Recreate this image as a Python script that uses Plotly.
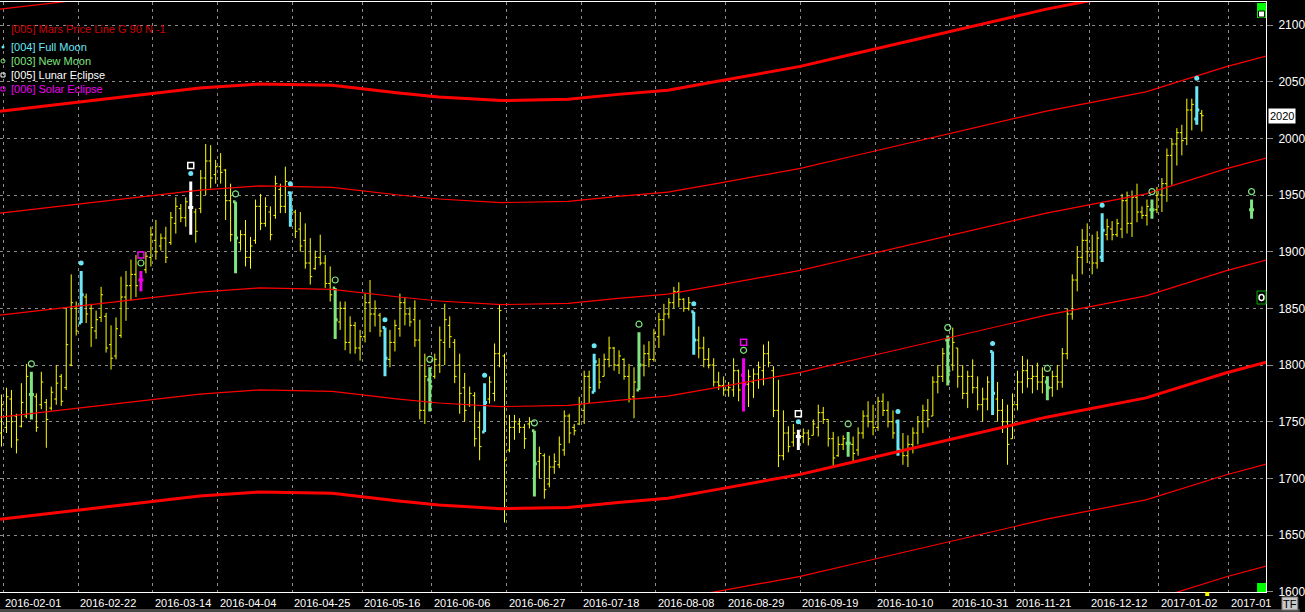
import plotly.graph_objects as go

# ---------------- data ----------------
bar_open = [
    1740, 1745, 1770, 1755, 1746, 1755, 1774, 1772, 1765, 1767,
    1762, 1770, 1790, 1780, 1800, 1850, 1837, 1860, 1850, 1830,
    1842, 1843, 1818, 1808, 1826, 1860, 1870, 1880, 1875, 1884,
    1895, 1910, 1905, 1912, 1908, 1925, 1938, 1930, 1939, 1935,
    1938, 1965, 1980, 1968, 1975, 1972, 1945, 1944, 1908, 1915,
    1895, 1910, 1940, 1925, 1935, 1932, 1955, 1940, 1952, 1935,
    1920, 1910, 1890, 1885, 1895, 1890, 1872, 1868, 1838, 1850,
    1820, 1835, 1815, 1825, 1855, 1845, 1844, 1833, 1805, 1820,
    1832, 1855, 1845, 1840, 1822, 1760, 1787, 1790, 1800, 1820,
    1835, 1820, 1800, 1780, 1765, 1773, 1745, 1741, 1770, 1775,
    1810, 1808, 1725, 1745, 1748, 1745, 1748, 1742, 1715, 1720,
    1695, 1710, 1712, 1725, 1755, 1745, 1748, 1760, 1790, 1776,
    1800, 1790, 1805, 1815, 1800, 1805, 1790, 1772, 1778, 1800,
    1810, 1805, 1825, 1840, 1845, 1855, 1865, 1858, 1850, 1847,
    1822, 1815, 1805, 1800, 1785, 1782, 1778, 1778, 1795, 1791,
    1783, 1785, 1792, 1795, 1810, 1795, 1760, 1720, 1740, 1732,
    1737, 1737, 1740, 1738, 1745, 1758, 1752, 1735, 1720, 1730,
    1731, 1730, 1725, 1740, 1755, 1750, 1745, 1768, 1760, 1750,
    1750, 1725, 1720, 1730, 1740, 1750, 1760, 1755, 1785, 1790,
    1822, 1800, 1815, 1790, 1775, 1790, 1780, 1765, 1770, 1812,
    1770, 1760, 1750, 1735, 1765, 1785, 1795, 1788, 1790, 1785,
    1785, 1780, 1790, 1785, 1810, 1845, 1875, 1895, 1910, 1900,
    1890, 1895, 1915, 1920, 1915, 1920, 1945, 1925, 1948, 1935,
    1932, 1937, 1937, 1950, 1960, 1985, 1995, 2005, 2000, 2025,
    2017, 2022,
]
bar_high = [
    1774, 1780, 1778, 1757, 1784, 1801, 1794, 1775, 1794, 1770,
    1781, 1800, 1792, 1851, 1880, 1856, 1883, 1863, 1854, 1848,
    1869, 1846, 1835, 1842, 1878, 1883, 1893, 1897, 1883, 1900,
    1922, 1928, 1916, 1922, 1935, 1948, 1942, 1948, 1962, 1938,
    1972, 1995, 1994, 1981, 1987, 1973, 1960, 1944, 1919, 1928,
    1913, 1946, 1951, 1948, 1940, 1967, 1960, 1975, 1953, 1937,
    1935, 1925, 1912, 1901, 1915, 1897, 1887, 1868, 1856, 1856,
    1843, 1838, 1831, 1863, 1875, 1857, 1846, 1833, 1831, 1840,
    1863, 1860, 1851, 1857, 1840, 1810, 1798, 1810, 1834, 1854,
    1843, 1823, 1810, 1793, 1781, 1776, 1759, 1784, 1790, 1819,
    1853, 1810, 1756, 1756, 1753, 1748, 1754, 1742, 1728, 1722,
    1720, 1722, 1737, 1760, 1757, 1748, 1772, 1795, 1795, 1810,
    1806, 1810, 1825, 1816, 1813, 1806, 1801, 1798, 1829, 1818,
    1821, 1832, 1846, 1854, 1859, 1869, 1873, 1859, 1860, 1847,
    1834, 1825, 1815, 1806, 1794, 1790, 1785, 1806, 1796, 1806,
    1796, 1797, 1803, 1818, 1821, 1799, 1787, 1760, 1746, 1748,
    1743, 1744, 1743, 1752, 1765, 1763, 1752, 1741, 1737, 1738,
    1741, 1737, 1745, 1760, 1768, 1765, 1772, 1775, 1768, 1760,
    1752, 1740, 1738, 1745, 1755, 1765, 1770, 1790, 1800, 1815,
    1826, 1833, 1815, 1800, 1795, 1805, 1790, 1780, 1790, 1812,
    1785, 1770, 1765, 1775, 1795, 1808, 1805, 1800, 1802, 1798,
    1790, 1795, 1800, 1815, 1850, 1880, 1905, 1920, 1925, 1915,
    1918, 1934, 1929, 1927, 1929, 1951, 1953, 1954, 1960, 1940,
    1946, 1946, 1957, 1965, 1991, 2000, 2009, 2012, 2035, 2035,
    2046, 2025,
]
bar_low = [
    1728, 1740, 1727, 1722, 1745, 1753, 1752, 1741, 1761, 1727,
    1760, 1765, 1764, 1778, 1799, 1826, 1837, 1837, 1816, 1823,
    1838, 1811, 1796, 1805, 1824, 1839, 1857, 1860, 1865, 1881,
    1887, 1893, 1901, 1890, 1906, 1916, 1926, 1922, 1915, 1908,
    1934, 1950, 1956, 1960, 1960, 1928, 1909, 1881, 1901, 1887,
    1885, 1907, 1919, 1922, 1910, 1929, 1934, 1934, 1922, 1912,
    1900, 1885, 1871, 1884, 1888, 1868, 1856, 1823, 1831, 1813,
    1810, 1810, 1804, 1820, 1829, 1834, 1825, 1790, 1798, 1812,
    1825, 1835, 1834, 1816, 1752, 1748, 1759, 1788, 1793, 1800,
    1815, 1784, 1757, 1750, 1763, 1728, 1716, 1741, 1766, 1768,
    1798, 1661, 1723, 1734, 1740, 1726, 1744, 1684, 1700, 1682,
    1692, 1704, 1709, 1720, 1731, 1738, 1747, 1748, 1766, 1776,
    1779, 1790, 1798, 1795, 1792, 1787, 1767, 1753, 1778, 1790,
    1798, 1803, 1815, 1826, 1841, 1850, 1851, 1847, 1848, 1809,
    1806, 1798, 1797, 1781, 1778, 1773, 1772, 1772, 1768, 1759,
    1763, 1771, 1779, 1782, 1798, 1754, 1710, 1716, 1723, 1728,
    1725, 1731, 1729, 1738, 1737, 1748, 1728, 1710, 1719, 1725,
    1719, 1715, 1720, 1735, 1745, 1738, 1742, 1755, 1745, 1735,
    1720, 1712, 1710, 1722, 1730, 1740, 1745, 1755, 1775, 1785,
    1782, 1795, 1780, 1770, 1762, 1775, 1760, 1750, 1760, 1756,
    1750, 1740, 1712, 1735, 1760, 1775, 1780, 1775, 1778, 1775,
    1769, 1772, 1778, 1780, 1805, 1840, 1865, 1880, 1890, 1880,
    1885, 1891, 1910, 1910, 1913, 1912, 1916, 1913, 1926, 1929,
    1923, 1929, 1934, 1935, 1944, 1959, 1976, 1985, 1994, 2007,
    2012, 2006,
]
bar_close = [
    1765, 1772, 1750, 1734, 1767, 1790, 1774, 1745, 1785, 1752,
    1776, 1784, 1768, 1818, 1855, 1830, 1862, 1845, 1833, 1840,
    1862, 1815, 1806, 1832, 1860, 1870, 1880, 1870, 1875, 1896,
    1915, 1900, 1912, 1895, 1930, 1940, 1930, 1944, 1939, 1918,
    1965, 1980, 1965, 1975, 1970, 1945, 1915, 1912, 1915, 1895,
    1905, 1940, 1925, 1940, 1915, 1960, 1940, 1962, 1937, 1918,
    1905, 1890, 1878, 1895, 1890, 1872, 1862, 1840, 1850, 1820,
    1835, 1815, 1825, 1855, 1845, 1850, 1830, 1806, 1820, 1835,
    1855, 1845, 1838, 1822, 1760, 1790, 1781, 1805, 1822, 1840,
    1825, 1790, 1775, 1760, 1775, 1735, 1728, 1767, 1785, 1810,
    1848, 1716, 1745, 1750, 1745, 1735, 1750, 1713, 1722, 1690,
    1710, 1715, 1730, 1755, 1740, 1742, 1765, 1790, 1780, 1803,
    1785, 1805, 1815, 1800, 1808, 1790, 1770, 1785, 1800, 1810,
    1805, 1828, 1840, 1845, 1855, 1865, 1858, 1850, 1855, 1822,
    1815, 1805, 1800, 1785, 1782, 1778, 1780, 1795, 1778, 1783,
    1790, 1792, 1798, 1810, 1802, 1760, 1720, 1740, 1728, 1740,
    1737, 1740, 1735, 1748, 1758, 1752, 1735, 1718, 1730, 1735,
    1731, 1722, 1740, 1755, 1750, 1745, 1768, 1760, 1750, 1740,
    1725, 1720, 1730, 1740, 1750, 1760, 1752, 1785, 1790, 1810,
    1795, 1820, 1790, 1775, 1790, 1780, 1765, 1770, 1785, 1775,
    1760, 1750, 1730, 1765, 1785, 1795, 1788, 1790, 1785, 1790,
    1780, 1790, 1785, 1810, 1845, 1875, 1895, 1910, 1900, 1890,
    1912, 1919, 1922, 1915, 1925, 1945, 1925, 1948, 1935, 1932,
    1940, 1937, 1950, 1960, 1985, 1995, 2005, 1998, 2025, 2030,
    2025, 2020,
]

# bar indices of the astro events
full_moon_idx = [16, 58, 77, 97, 119, 139, 180, 199, 221, 240]
new_moon_idx = [6, 47, 67, 86, 107, 128, 170, 190, 210, 231]
lunar_eclipse_idx = [38, 160]
solar_eclipse_idx = [28, 149]
next_new_moon_idx = 251           # projected marker (repeats last new-moon bar)

# x-axis labels (bar index of each labelled date)
tick_idx = [0, 15, 30, 43, 58, 72, 86, 101, 116, 131, 145, 160, 175, 190, 203, 218, 232, 246]
tick_labels = ["2016-02-01", "2016-02-22", "2016-03-14", "2016-04-04", "2016-04-25",
               "2016-05-16", "2016-06-06", "2016-06-27", "2016-07-18", "2016-08-08",
               "2016-08-29", "2016-09-19", "2016-10-10", "2016-10-31", "2016-11-21",
               "2016-12-12", "2017-01-02", "2017-01"]

# Mars price line (base harmonic), read at several bar positions
mars_idx = [-0.3, 19.8, 39.8, 51.8, 66.4, 79.8, 87.8, 100.4, 113.8, 123.8, 133.8,
            143.8, 150.4, 160.4, 170.4, 190.4, 209.8, 229.8, 245.8, 254]
mars_base = [1664, 1674, 1684.4, 1688, 1686.8, 1680, 1676.5, 1673.3, 1674.4, 1678.8,
             1682.5, 1690.3, 1695.4, 1703.5, 1713.8, 1734, 1754, 1771, 1793, 1802.6]
mars_step = 90
mars_harmonics = [-2, -1, 0, 1, 2, 3, 4, 5]

y_ticks = [1600, 1650, 1700, 1750, 1800, 1850, 1900, 1950, 2000, 2050, 2100]
last_price = 2020

# ---------------- styling ----------------
YELLOW = "#ffff00"
CYAN = "#6ae6f5"
GREEN = "#7fe47f"
MAGENTA = "#f000f0"
WHITE = "#ffffff"
RED = "#ff0000"
GRID = "#8a8a8a"
FONT = "Arial, 'Liberation Sans', sans-serif"

W, H = 1305, 612
ML, MR, MT, MB = 0, 34, 2, 20
PW, PH = W - ML - MR, H - MT - MB
X_RANGE = [-0.3, 253.9]          # puts bar centres on pixel centres
Y_RANGE = [1599.74, 2120.3]
GRID_OFFSET = 0.4
MARK_GAP = 7
ECL_GAP = 14


def px(x):
    return (x - ML) / PW


def py(y):
    return (H - MB - y) / PH


n = len(bar_open)
assert n == len(bar_high) == len(bar_low) == len(bar_close)

fig = go.Figure()

# Mars price lines
for k in mars_harmonics:
    thick = (k % 4 == 0)
    fig.add_trace(go.Scatter(
        x=mars_idx, y=[b + k * mars_step for b in mars_base], mode="lines",
        line=dict(color=RED, width=3 if thick else 1.2), hoverinfo="skip",
        showlegend=False))

special = set(full_moon_idx + new_moon_idx + lunar_eclipse_idx + solar_eclipse_idx)
plain = [i for i in range(n) if i not in special]


def ohlc_trace(idx, color, width, tickw):
    return go.Ohlc(
        x=idx,
        open=[bar_open[i] for i in idx], high=[bar_high[i] for i in idx],
        low=[bar_low[i] for i in idx], close=[bar_close[i] for i in idx],
        increasing=dict(line=dict(color=color, width=width)),
        decreasing=dict(line=dict(color=color, width=width)),
        tickwidth=tickw, showlegend=False, hoverinfo="skip")


fig.add_trace(ohlc_trace(plain, YELLOW, 1, 0.4))
fig.add_trace(ohlc_trace(full_moon_idx, CYAN, 3, 0.5))
fig.add_trace(ohlc_trace(new_moon_idx, GREEN, 3, 0.5))
fig.add_trace(ohlc_trace(lunar_eclipse_idx, WHITE, 3, 0.5))
fig.add_trace(ohlc_trace(solar_eclipse_idx, MAGENTA, 3, 0.5))

# projected new moon (repeats the last new-moon bar)
last_nm = new_moon_idx[-1]
fig.add_trace(go.Ohlc(
    x=[next_new_moon_idx], open=[bar_open[last_nm]], high=[bar_high[last_nm]],
    low=[bar_low[last_nm]], close=[bar_close[last_nm]],
    increasing=dict(line=dict(color=GREEN, width=3)),
    decreasing=dict(line=dict(color=GREEN, width=3)),
    tickwidth=0.5, showlegend=False, hoverinfo="skip"))

# event markers
fm_all = full_moon_idx + lunar_eclipse_idx
fig.add_trace(go.Scatter(
    x=fm_all, y=[bar_high[i] + MARK_GAP for i in fm_all], mode="markers",
    marker=dict(symbol="circle", size=5, color=CYAN), showlegend=False, hoverinfo="skip"))
nm_all = new_moon_idx + solar_eclipse_idx
fig.add_trace(go.Scatter(
    x=nm_all + [next_new_moon_idx],
    y=[bar_high[i] + MARK_GAP for i in nm_all] + [bar_high[last_nm] + MARK_GAP],
    mode="markers",
    marker=dict(symbol="circle-open", size=6, color=GREEN, line=dict(width=1.2)),
    showlegend=False, hoverinfo="skip"))
fig.add_trace(go.Scatter(
    x=lunar_eclipse_idx, y=[bar_high[i] + ECL_GAP for i in lunar_eclipse_idx], mode="markers",
    marker=dict(symbol="square-open", size=6, color=WHITE, line=dict(width=1.5)),
    showlegend=False, hoverinfo="skip"))
fig.add_trace(go.Scatter(
    x=solar_eclipse_idx, y=[bar_high[i] + ECL_GAP for i in solar_eclipse_idx], mode="markers",
    marker=dict(symbol="square-open", size=6, color=MAGENTA, line=dict(width=1.5)),
    showlegend=False, hoverinfo="skip"))

annotations = []
# x-axis date labels (left aligned at the grid lines)
for t, lab in zip(tick_idx, tick_labels):
    annotations.append(dict(
        x=t + GRID_OFFSET, xref="x", y=0, yref="paper", text=lab, showarrow=False,
        xanchor="left", yanchor="top", xshift=0, yshift=-3,
        font=dict(family=FONT, size=11, color=WHITE)))

# indicator legend (top-left)
legend_items = [
    ("[005] Mars Price Line G 90 N -1", "#d00000", 29),
    ("[004] Full Moon", CYAN, 47),
    ("[003] New Moon", GREEN, 61),
    ("[005] Lunar Eclipse", WHITE, 75),
    ("[006] Solar Eclipse", MAGENTA, 89),
]
for txt, col, yy in legend_items:
    annotations.append(dict(
        x=px(9), xref="paper", y=py(yy), yref="paper", text=txt, showarrow=False,
        xanchor="left", yanchor="middle", font=dict(family=FONT, size=11, color=col)))

# last price box
annotations.append(dict(
    x=px(1273), xref="paper", y=last_price, yref="y", text=str(last_price), showarrow=False,
    xanchor="left", yanchor="middle", bgcolor="#ffffff", borderpad=1,
    font=dict(family=FONT, size=11, color="#000000")))

shapes = []
# legend symbols
shapes.append(dict(type="circle", xref="paper", yref="paper", x0=px(1.5), x1=px(4.5),
                   y0=py(48.5), y1=py(45.5), fillcolor=CYAN, line=dict(width=0)))
shapes.append(dict(type="circle", xref="paper", yref="paper", x0=px(1), x1=px(5),
                   y0=py(63), y1=py(59), line=dict(color=GREEN, width=1)))
shapes.append(dict(type="rect", xref="paper", yref="paper", x0=px(1), x1=px(5),
                   y0=py(77), y1=py(73), line=dict(color=WHITE, width=1)))
shapes.append(dict(type="rect", xref="paper", yref="paper", x0=px(1), x1=px(5),
                   y0=py(91), y1=py(87), line=dict(color=MAGENTA, width=1)))
# right-edge widgets
shapes.append(dict(type="rect", xref="paper", yref="paper", x0=px(1262), x1=px(1271),
                   y0=py(18), y1=py(3), fillcolor="#00ff00", line=dict(width=0)))
shapes.append(dict(type="rect", xref="paper", yref="paper", x0=px(1263.5), x1=px(1269.5),
                   y0=py(17), y1=py(11), fillcolor="#ffffff", line=dict(color="#000000", width=1)))
shapes.append(dict(type="rect", xref="paper", yref="paper", x0=px(1262), x1=px(1271),
                   y0=py(304), y1=py(291), fillcolor="#000000", line=dict(color="#00b000", width=1)))
shapes.append(dict(type="circle", xref="paper", yref="paper", x0=px(1264), x1=px(1269),
                   y0=py(300.5), y1=py(294.5), line=dict(color="#ffffff", width=1.5)))
shapes.append(dict(type="rect", xref="paper", yref="paper", x0=px(1262), x1=px(1271),
                   y0=py(592), y1=py(583), fillcolor="#00ff00", line=dict(width=0)))
shapes.append(dict(type="rect", xref="paper", yref="paper", x0=px(1210), x1=px(1214),
                   y0=py(596), y1=py(592), fillcolor=YELLOW, line=dict(width=0)))
shapes.append(dict(type="rect", xref="paper", yref="paper", x0=px(0), x1=px(1305),
                   y0=py(612), y1=py(609), fillcolor="#4a4a4a", line=dict(width=0),
                   layer="below"))
# TF button
shapes.append(dict(type="rect", xref="paper", yref="paper", x0=px(1287), x1=px(1303),
                   y0=py(610), y1=py(597), fillcolor="#c8c8c8",
                   line=dict(color="#707070", width=1)))
annotations.append(dict(
    x=px(1295), xref="paper", y=py(603.5), yref="paper", text="TF", showarrow=False,
    xanchor="center", yanchor="middle", borderpad=0,
    font=dict(family=FONT, size=11, color="#000000")))

fig.update_layout(
    width=W, height=H,
    margin=dict(l=ML, r=MR, t=MT, b=MB, pad=0),
    paper_bgcolor="#000000", plot_bgcolor="#000000",
    showlegend=False, hovermode=False,
    annotations=annotations, shapes=shapes,
    xaxis=dict(
        range=X_RANGE, tickvals=[t + GRID_OFFSET for t in tick_idx], showticklabels=False,
        ticks="", showgrid=True, gridcolor=GRID, gridwidth=1, griddash="3px,4px",
        zeroline=False, showline=True, linecolor="#ffffff", linewidth=1, mirror=True,
        rangeslider=dict(visible=False), fixedrange=True),
    yaxis=dict(
        range=Y_RANGE, side="right", tickvals=y_ticks, ticks="outside", ticklen=6,
        tickcolor=GRID, tickwidth=1, showgrid=True, gridcolor=GRID, gridwidth=1,
        griddash="3px,4px", zeroline=False, showline=True, linecolor="#ffffff", linewidth=1,
        ticklabelstandoff=3,
        tickfont=dict(family=FONT, size=12, color="#ffffff"), fixedrange=True),
)

fig.write_html("out.html", config={"displayModeBar": False},
               post_script="document.body.style.margin='0';document.body.style.overflow='hidden';")
